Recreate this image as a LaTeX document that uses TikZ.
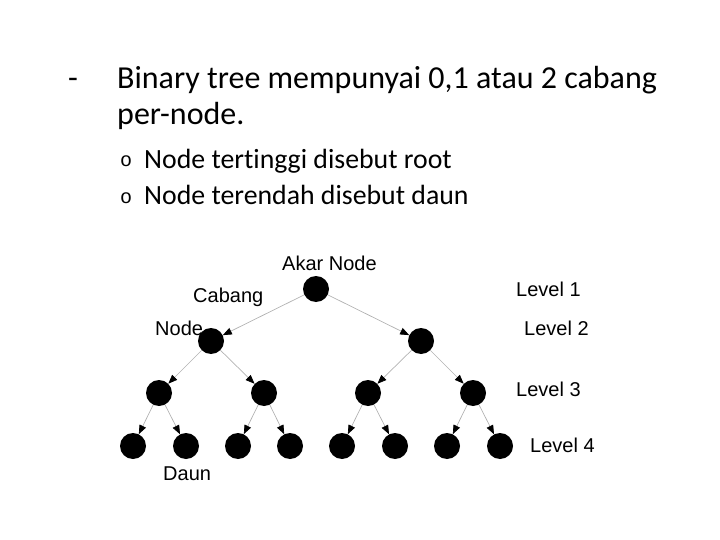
\documentclass[tikz,border=0pt]{standalone}
\usepackage{fontspec}
\setmainfont[Ligatures={NoCommon}]{Carlito}
\newfontfamily\arialf{Liberation Sans}
\newfontfamily\monof{Liberation Mono}
\usetikzlibrary{arrows.meta}
\tikzset{
  dot/.style={circle,fill=black,minimum size=26pt,inner sep=0pt},
  edge/.style={draw=black!30,line width=0.7pt,-{Triangle[black,length=9pt,width=7pt]}},
  lbl/.style={anchor=base west,inner sep=0pt,font=\arialf\fontsize{20}{24}\selectfont},
  maintext/.style={anchor=base west,inner sep=0pt,font=\fontsize{32}{38}\selectfont},
  subtext/.style={anchor=base west,inner sep=0pt,font=\fontsize{27.8}{32}\selectfont},
  bul/.style={anchor=base west,inner sep=0pt,font=\monof\fontsize{20}{22}\selectfont}
}
\begin{document}
\begin{tikzpicture}[x=1pt,y=-1pt]
\useasboundingbox (0,0) rectangle (720,540);
% text
\node[maintext] (dash) at (68,89) {-};
\node[maintext] (l1) at (117,89) {Binary tree mempunyai 0,1 atau 2 cabang};
\node[maintext] (l2) at (117,125) {per-node.};
\node[bul] (b1) at (120,167) {o};
\node[subtext] (s1) at (144,169) {Node tertinggi disebut root};
\node[bul] (b2) at (120,204) {o};
\node[subtext] (s2) at (144,205) {Node terendah disebut daun};
% tree
\node[dot] (r) at (316,289) {};
\node[dot] (a) at (211,341) {};
\node[dot] (b) at (421,341) {};
\node[dot] (aa) at (159,393) {};
\node[dot] (ab) at (264,393) {};
\node[dot] (ba) at (368,393) {};
\node[dot] (bb) at (473,393) {};
\node[dot] (aaa) at (133,446) {};
\node[dot] (aab) at (186,446) {};
\node[dot] (aba) at (238,446) {};
\node[dot] (abb) at (290,446) {};
\node[dot] (baa) at (342,446) {};
\node[dot] (bab) at (395,446) {};
\node[dot] (bba) at (447,446) {};
\node[dot] (bbb) at (500,446) {};
\foreach \p/\c in {r/a,r/b,a/aa,a/ab,b/ba,b/bb,aa/aaa,aa/aab,ab/aba,ab/abb,ba/baa,ba/bab,bb/bba,bb/bbb}
  \draw[edge] (\p) -- (\c);
% labels
\node[lbl] (akar) at (282,270) {Akar Node};
\node[lbl] (cab) at (193,302) {Cabang};
\node[lbl] (nd) at (155,335) {Node};
\node[lbl] (daun) at (163,480) {Daun};
\node[lbl] (lv1) at (516,296) {Level 1};
\node[lbl] (lv2) at (524,335.5) {Level 2};
\node[lbl] (lv3) at (516,396) {Level 3};
\node[lbl] (lv4) at (530,452.5) {Level 4};
\end{tikzpicture}
\end{document}
